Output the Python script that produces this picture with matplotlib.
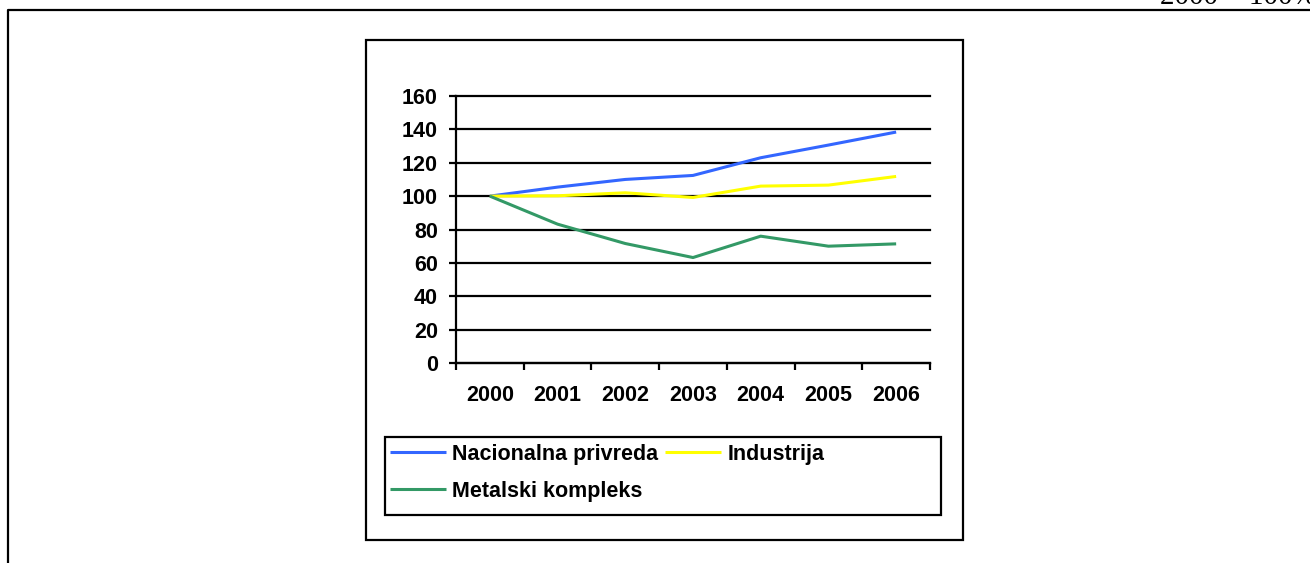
import matplotlib
matplotlib.use("Agg")
import matplotlib.pyplot as plt
from matplotlib.lines import Line2D
from matplotlib.patches import Rectangle

W, H = 1310, 563

years = ["2000", "2001", "2002", "2003", "2004", "2005", "2006"]
nacionalna = [100, 105.4, 110, 112.4, 123, 130.6, 138.4]
industrija = [100, 100.2, 102, 99.2, 106, 106.6, 111.8]
metalski = [100, 83.2, 71.6, 63.2, 76, 70, 71.4]
series_names = ["Nacionalna privreda", "Industrija", "Metalski kompleks"]
series_colors = ["#3366FF", "#FFFF00", "#339966"]
y_ticks = [0, 20, 40, 60, 80, 100, 120, 140, 160]

plt.rcParams['font.family'] = ['Liberation Sans', 'DejaVu Sans']


def fx(px):
    return px / W


def fy(py):
    return 1 - py / H


fig = plt.figure(figsize=(W / 100, H / 100), dpi=100)

# outer frame (runs off the right and bottom edges)
fig.add_artist(Line2D([fx(8), fx(8), fx(W + 5)], [fy(H + 5), fy(10), fy(10)],
                      transform=fig.transFigure, color="black", lw=1.6))
fig.text(fx(1160), fy(4), "2000 = 100%", fontsize=21, family="Liberation Serif",
         ha="left", va="baseline")

# chart frame
fig.add_artist(Rectangle((fx(366), fy(540)), fx(963) - fx(366), fy(40) - fy(540),
                         transform=fig.transFigure, fill=False, ec="black", lw=1.6))

ax = fig.add_axes([fx(456), fy(363), fx(930) - fx(456), fy(96) - fy(363)])
x = list(range(len(years)))
handles = []
for vals, name, col in zip([nacionalna, industrija, metalski], series_names, series_colors):
    h, = ax.plot(x, vals, color=col, lw=2.2, label=name, solid_capstyle="butt")
    handles.append(h)

ax.set_xlim(-0.5, len(years) - 0.5)
ax.set_ylim(0, 160)
ax.set_yticks(y_ticks)
ax.yaxis.grid(True, color="black", lw=1.6)
ax.set_axisbelow(True)
for s in ["top", "right"]:
    ax.spines[s].set_visible(False)
for s in ["left", "bottom"]:
    ax.spines[s].set_linewidth(1.6)

ax.set_xticks([i - 0.5 for i in range(len(years) + 1)])
ax.set_xticklabels([])
ax.set_xticks(x, minor=True)
ax.set_xticklabels(years, minor=True, fontsize=15.5, fontweight="bold")
ax.tick_params(axis="x", which="major", direction="out", length=5, width=1.6)
ax.tick_params(axis="x", which="minor", length=0, pad=16)
ax.tick_params(axis="y", direction="out", length=5, width=1.6, pad=8,
               labelsize=15.5)
for lab in ax.get_yticklabels():
    lab.set_fontweight("bold")
fig.canvas.draw()
for gl in ax.get_ygridlines():
    gl.set_clip_on(False)

# legend frame drawn separately so it can span the full width
fig.add_artist(Rectangle((fx(385), fy(515)), fx(941) - fx(385), fy(437) - fy(515),
                         transform=fig.transFigure, fill=False, ec="black", lw=1.6))
order = [0, 2, 1]
leg = fig.legend([handles[i] for i in order], [series_names[i] for i in order],
                 loc="upper left", bbox_to_anchor=(fx(390), fy(444)),
                 ncol=2, frameon=False, borderpad=0, borderaxespad=0,
                 handlelength=2.6, handletextpad=0.3, columnspacing=0.3,
                 labelspacing=0.72, prop={"size": 15.5, "weight": "bold"})

fig.savefig("out.png", dpi=100)
